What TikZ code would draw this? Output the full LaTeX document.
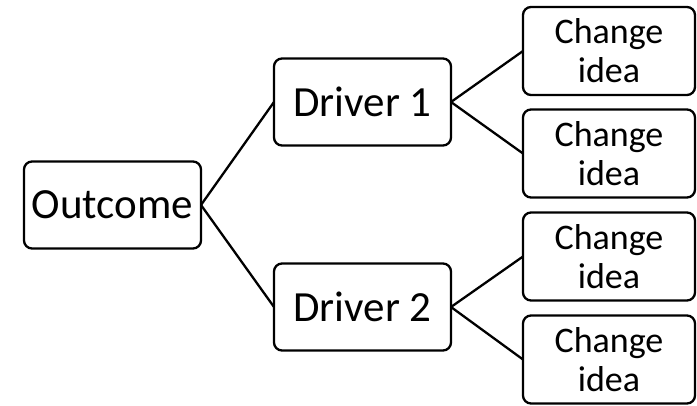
\documentclass[tikz,border=0pt]{standalone}
\usepackage{fontspec}
\setmainfont{Carlito}
\usepackage{tkz-graph}

\begin{document}
\begin{tikzpicture}[x=1pt,y=-1pt,line width=2.3pt]
\tikzset{VertexStyle/.style = {draw,rectangle,rounded corners=8pt,
                               minimum width=177pt,minimum height=87pt,
                               inner sep=0pt,font=\fontsize{43}{46}\selectfont}}
\useasboundingbox (0,0) rectangle (697,405);
\Vertex[x = 112.5, y = 205, L = Outcome]{out}
\Vertex[x = 362.5, y = 102, L = {Driver 1}]{d1}
\Vertex[x = 362.5, y = 307, L = {Driver 2}]{d2}
\tikzset{VertexStyle/.append style = {minimum width=172pt,minimum height=88pt,
                                      align=center,font=\fontsize{36}{39}\selectfont}}
\Vertex[x = 609, y = 51, L = {Change\\idea}]{c1}
\Vertex[x = 609, y = 153.5, L = {Change\\idea}]{c2}
\Vertex[x = 609, y = 256.5, L = {Change\\idea}]{c3}
\Vertex[x = 609, y = 359.5, L = {Change\\idea}]{c4}
\draw (out.east) -- (d1.west);  \draw (out.east) -- (d2.west);
\draw (d1.east) -- (c1.west);   \draw (d1.east) -- (c2.west);
\draw (d2.east) -- (c3.west);   \draw (d2.east) -- (c4.west);
\end{tikzpicture}
\end{document}
